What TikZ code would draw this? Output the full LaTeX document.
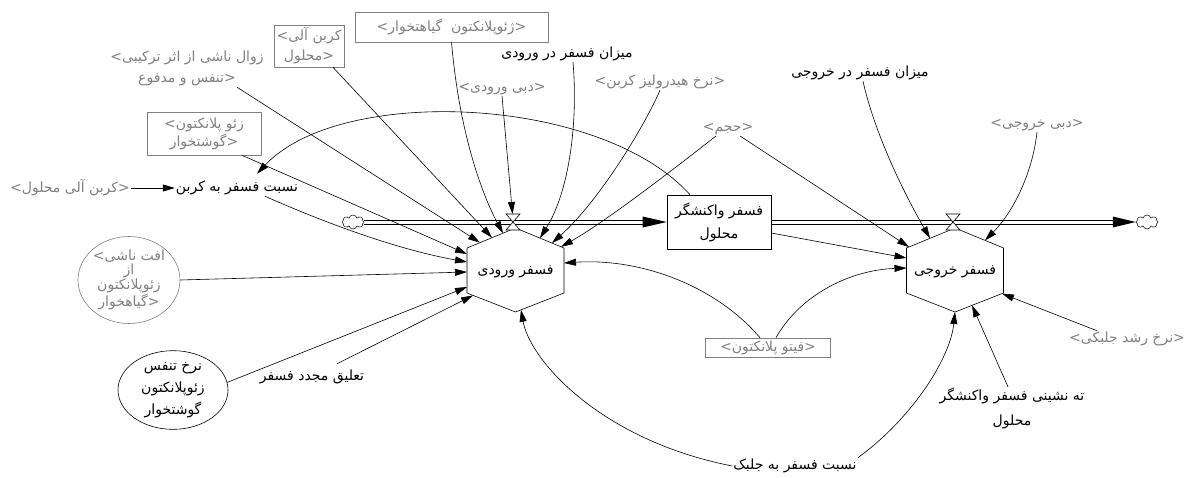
\documentclass[tikz,border=0pt]{standalone}
\usepackage{fontspec}
\usetikzlibrary{arrows.meta,shapes.geometric,shapes.symbols,calc}
\TeXXeTstate=1
\newfontfamily\fa[Script=Arabic]{DejaVu Sans}
\newfontfamily\lat{DejaVu Sans}
\newcommand{\RL}[1]{\beginR #1\endR}
\newcommand{\opb}{{\lat<}}
\newcommand{\clb}{{\lat>}}
\definecolor{shadowgray}{RGB}{128,128,128}
\tikzset{
  lbl/.style={font=\fa\fontsize{14}{20}\selectfont, inner sep=1pt, align=center, text=black},
  shd/.style={lbl, text=shadowgray},
  shdbox/.style={shd, draw=shadowgray, line width=0.6pt},
  lnk/.style={draw=black, line width=0.6pt, -{Triangle[length=12pt,width=7pt]}},
  pipeline/.style={draw=black, line width=0.6pt},
  valveshape/.style={draw=black, fill=white, line width=0.6pt},
  hexshape/.style={draw=black, fill=white, line width=0.6pt},
  cloudshape/.style={cloud, draw=black, fill=white, cloud puffs=8, aspect=1.6, minimum width=22pt, minimum height=14pt, inner sep=0pt, line width=0.5pt}
}
\newcommand{\hexa}[1]{\draw[hexshape] ($(#1)+(0,-42)$) -- ($(#1)+(48.5,-22)$) -- ($(#1)+(48.5,23)$) -- ($(#1)+(0,42)$) -- ($(#1)+(-48.5,23)$) -- ($(#1)+(-48.5,-22)$) -- cycle;}
\newcommand{\valve}[1]{\draw[valveshape] ($(#1)+(-7,-8)$) -- ($(#1)+(7,-8)$) -- ($(#1)+(-7,8)$) -- ($(#1)+(7,8)$) -- cycle;}
\begin{document}
\begin{tikzpicture}[x=1pt,y=-1pt]
\useasboundingbox (0,0) rectangle (1188,477);

% hexagons
\coordinate (hexL) at (515.5,270);
\coordinate (hexR) at (955,270);
\hexa{hexL}
\hexa{hexR}
\node[lbl] (V1) at (515.5,272) {\RL{فسفر ورودی}};
\node[lbl] (V2) at (955,272) {\RL{فسفر خروجی}};

% stock
\node[lbl, draw=black, line width=0.6pt, minimum width=104pt, minimum height=54pt, font=\fa\fontsize{14}{23}\selectfont] (box) at (719,222) {\RL{فسفر واکنشگر}\\\RL{محلول}};

% clouds
\node[cloudshape] (cloudL) at (353,222) {};
\node[cloudshape] (cloudR) at (1147,222) {};

% pipes (double lines)
\draw[pipeline] ($(cloudL.east)+(0,-2.2)$) -- ($(box.west)+(-22,-2.2)$);
\draw[pipeline] ($(cloudL.east)+(0,2.2)$) -- ($(box.west)+(-22,2.2)$);
\fill (box.west) -- ++(-24,-5.5) -- ++(0,11) -- cycle;
\draw[pipeline] ($(box.east)+(0,-2.2)$) -- ($(cloudR.west)+(-21,-2.2)$);
\draw[pipeline] ($(box.east)+(0,2.2)$) -- ($(cloudR.west)+(-21,2.2)$);
\fill (cloudR.west) -- ++(-23,-5.5) -- ++(0,11) -- cycle;
\coordinate (valve1) at (513,222);
\coordinate (valve2) at (953,222);
\valve{valve1}
\valve{valve2}

% variables
\node[shd, font=\fa\fontsize{14}{21}\selectfont] (zaval) at (187,68.5) {\opb\RL{زوال ناشی از اثر ترکیبی}\\\RL{تنفس و مدفوع}\clb};
\node[shdbox, minimum width=70pt, minimum height=42pt] (karbon) at (309,46) {\opb\RL{کربن آلی}\\\RL{محلول}\clb};
\node[shdbox, minimum width=193pt, minimum height=30pt] (zgiah) at (451.5,27) {\opb\RL{ژئوپلانکتون\ \ گیاهتخوار}\clb};
\node[lbl] (mizanin) at (567,54) {\RL{میزان فسفر در ورودی}};
\node[shd] (dobiin) at (502,89) {\opb\RL{دبی ورودی}\clb};
\node[shd] (hydro) at (660,82) {\opb\RL{نرخ هیدرولیز کربن}\clb};
\node[shd] (hajm) at (728,129) {\opb\RL{حجم}\clb};
\node[lbl] (mizanout) at (860,73) {\RL{میزان فسفر در خروجی}};
\node[shd] (dobiout) at (1037,125) {\opb\RL{دبی خروجی}\clb};
\node[shdbox, minimum width=114pt, minimum height=43pt, font=\fa\fontsize{14}{18}\selectfont] (zgoosht) at (204,133.5) {\opb\RL{زئو پلانکتون}\\\RL{گوشتخوار}\clb};
\node[shd] (karbon2) at (70,188) {\opb\RL{کربن آلی محلول}\clb};
\node[lbl] (nesbatC) at (237,188) {\RL{نسبت فسفر به کربن}};
\node[shd, ellipse, draw=shadowgray, line width=0.6pt, minimum width=102pt, minimum height=87pt, inner sep=0pt, font=\fa\fontsize{14}{13.5}\selectfont] (oft) at (129,280) {\opb\RL{افت ناشی}\\\RL{از}\\\RL{زئوپلانکتون}\\\RL{گیاهخوار}\clb};
\node[lbl, ellipse, draw=black, line width=0.6pt, minimum width=110pt, minimum height=73pt, inner sep=0pt, font=\fa\fontsize{14}{22}\selectfont] (nerkh) at (173,390) {\RL{نرخ تنفس}\\\RL{زئوپلانکتون}\\\RL{گوشتخوار}};
\node[lbl] (taliq) at (312,377) {\RL{تعلیق مجدد فسفر}};
\node[shdbox, minimum width=125pt, minimum height=19pt, inner ysep=0pt] (phyto) at (768,347.5) {\opb\RL{فیتو پلانکتون}\clb};
\node[shd] (growth) at (1127,339) {\opb\RL{نرخ رشد جلبکی}\clb};
\node[lbl, font=\fa\fontsize{14}{25}\selectfont] (tahnesh) at (1012,408.5) {\RL{ته نشینی فسفر واکنشگر}\\\RL{محلول}};
\node[lbl] (nesbatJ) at (795,466) {\RL{نسبت فسفر به جلبک}};

% arrow end points on the hexagons
\coordinate (v1a) at (480,242.6);
\coordinate (v1b) at (492,237.7);
\coordinate (v1c) at (503,233.2);
\coordinate (v1d) at (540,238.1);
\coordinate (v1e) at (552,243.1);
\coordinate (v1f) at (561,246.8);
\coordinate (v1g) at (467,254);
\coordinate (v1h) at (467,262);
\coordinate (v1i) at (467,272);
\coordinate (v1j) at (467,287);
\coordinate (v1k) at (473,295.4);
\coordinate (v1l) at (521,309.8);
\coordinate (v1m) at (564,263);
\coordinate (valvetop) at (512.5,214);
\coordinate (v2a) at (930,238.3);
\coordinate (v2b) at (985,240.4);
\coordinate (v2c) at (909,247);
\coordinate (v2d) at (906.5,258);
\coordinate (v2e) at (906.5,268);
\coordinate (v2f) at (1002,293.6);
\coordinate (v2g) at (972,305.3);
\coordinate (v2h) at (955,312);

% links into V1
\draw[lnk] ($(zaval.south)+(50,0)$) -- (v1a);
\draw[lnk] ($(karbon.south)+(24,0)$) -- (v1b);
\draw[lnk] (zgiah.south) .. controls (460,140) and (485,200) .. (v1c);
\draw[lnk] (dobiin.south) -- (valvetop);
\draw[lnk] ($(mizanin.south)+(6,0)$) .. controls (578,120) and (570,190) .. (v1d);
\draw[lnk] (hydro.south) .. controls (645,125) and (600,200) .. (v1e);
\draw[lnk] ($(hajm.south)+(-12,0)$) .. controls (660,180) and (600,225) .. (v1f);
\draw[lnk] ($(zgoosht.south)+(38,0)$) -- (v1g);
\draw[lnk] ($(nesbatC.south)+(28,0)$) .. controls (330,225) and (400,250) .. (v1h);
\draw[lnk] (oft.east) -- (v1i);
\draw[lnk] (nerkh.8) -- (v1j);
\draw[lnk] ($(taliq.north)+(25,-5)$) -- (v1k);
\draw[lnk] (nesbatJ.west) .. controls (600,440) and (530,360) .. (v1l);
\draw[lnk] ($(phyto.north)+(-8,0)$) .. controls (715,285) and (640,258) .. (v1m);

% links into V2
\draw[lnk] ($(mizanout.south)+(3,0)$) .. controls (875,135) and (905,195) .. (v2a);
\draw[lnk] (dobiout.south) .. controls (1033,170) and (1015,210) .. (v2b);
\draw[lnk] ($(hajm.south)+(12,0)$) -- (v2c);
\draw[lnk] ($(box.east)+(0,11)$) -- (v2d);
\draw[lnk] ($(phyto.north)+(8,0)$) .. controls (800,295) and (850,270) .. (v2e);
\draw[lnk] ($(growth.north)+(-30,0)$) -- (v2f);
\draw[lnk] ($(tahnesh.north)+(-4,0)$) -- (v2g);
\draw[lnk] (nesbatJ.north east) .. controls (910,420) and (950,360) .. (v2h);

% other links
\draw[lnk] (karbon2.east) -- (nesbatC.west);
\draw[lnk] ($(box.north)+(-29,0)$) .. controls (600,95) and (340,85) .. ($(nesbatC.north)+(20,-6)$);
\end{tikzpicture}
\end{document}
